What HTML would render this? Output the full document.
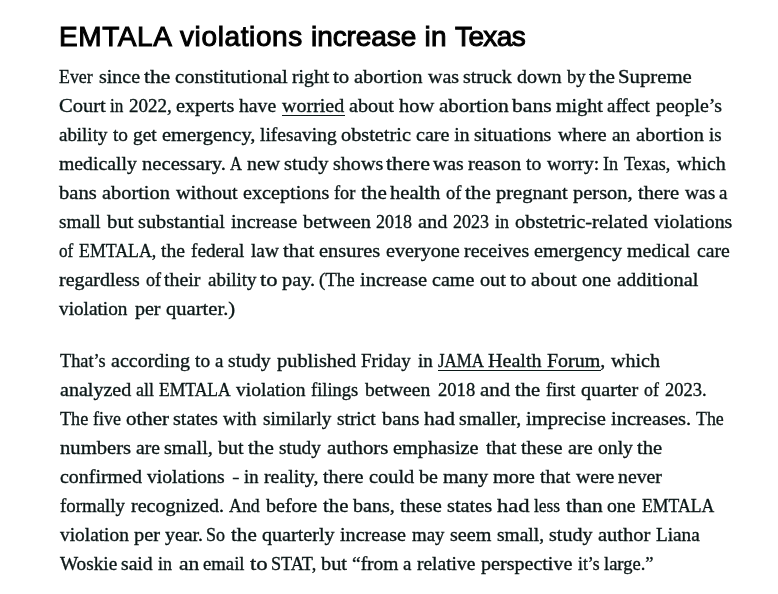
<!DOCTYPE html>
<html><head><meta charset="utf-8"><title>EMTALA violations increase in Texas</title><style>
html,body{margin:0;padding:0;background:#fff;width:778px;height:594px;overflow:hidden}
.wrap{position:absolute;left:0;top:0;width:778px;height:594px;will-change:transform;background:#fff}
h1{position:absolute;left:0;top:19.5px;margin:0;font-family:"Liberation Sans",sans-serif;font-weight:normal;font-size:28px;line-height:34px;color:#000;-webkit-text-stroke:1px #000;white-space:nowrap;width:778px;height:34px}
h1 span{position:absolute;top:0}
.l{position:absolute;left:0;width:778px;height:29px;font-family:"Liberation Serif",serif;font-size:19.5px;line-height:29px;color:#0b1717;-webkit-text-stroke:0.35px #0b1717;white-space:nowrap}
.l span{position:absolute;top:0;transform-origin:0 0}
.u{position:absolute;height:1px;background:#0b1717}
</style></head><body><div class="wrap">
<h1><span style="left:59px;letter-spacing:0.6px">EMTALA</span><span style="left:180px;letter-spacing:0.62px">violations</span><span style="left:311px;letter-spacing:-0.08px">increase</span><span style="left:424.5px;letter-spacing:0.2px">in</span><span style="left:455px;letter-spacing:-0.62px">Texas</span></h1>
<div class="l" style="top:62px"><span style="left:59.29px;transform:scaleX(0.9142)">Ever</span><span style="left:99.26px;transform:scaleX(1.0263)">since</span><span style="left:144.33px;transform:scaleX(1.1023)">the</span><span style="left:175.31px;transform:scaleX(1.0614)">constitutional</span><span style="left:292.30px;transform:scaleX(1.0115)">right</span><span style="left:333.32px;transform:scaleX(1.0667)">to</span><span style="left:354.27px;transform:scaleX(1.0525)">abortion</span><span style="left:428.26px;transform:scaleX(1.0222)">was</span><span style="left:463.30px;transform:scaleX(1.0231)">struck</span><span style="left:517.27px;transform:scaleX(1.0307)">down</span><span style="left:567.26px;transform:scaleX(0.9563)">by</span><span style="left:589.35px;transform:scaleX(1.0883)">the</span><span style="left:618.23px;transform:scaleX(1.0649)">Supreme</span></div>
<div class="l" style="top:91px"><span style="left:59.28px;transform:scaleX(1.0527)">Court</span><span style="left:110.34px;transform:scaleX(0.8795)">in</span><span style="left:129.30px;transform:scaleX(0.9767)">2022,</span><span style="left:176.29px;transform:scaleX(1.0357)">experts</span><span style="left:239.27px;transform:scaleX(1.0090)">have</span><span style="left:282.31px;transform:scaleX(1.0265)">worried</span><span style="left:349.30px;transform:scaleX(1.0346)">about</span><span style="left:399.30px;transform:scaleX(1.0507)">how</span><span style="left:439.27px;transform:scaleX(1.0710)">abortion</span><span style="left:512.29px;transform:scaleX(1.1118)">bans</span><span style="left:556.30px;transform:scaleX(1.0265)">might</span><span style="left:607.30px;transform:scaleX(0.9689)">affect</span><span style="left:656.30px;transform:scaleX(1.0170)">people’s</span></div>
<div class="l" style="top:120px"><span style="left:59.29px;transform:scaleX(0.9704)">ability</span><span style="left:113.28px;transform:scaleX(0.9902)">to</span><span style="left:133.26px;transform:scaleX(0.9948)">get</span><span style="left:162.25px;transform:scaleX(1.0530)">emergency,</span><span style="left:260.30px;transform:scaleX(0.9975)">lifesaving</span><span style="left:341.26px;transform:scaleX(1.0412)">obstetric</span><span style="left:416.29px;transform:scaleX(1.0312)">care</span><span style="left:454.30px;transform:scaleX(1.0000)">in</span><span style="left:474.28px;transform:scaleX(1.0354)">situations</span><span style="left:558.31px;transform:scaleX(1.0193)">where</span><span style="left:612.27px;transform:scaleX(0.9867)">an</span><span style="left:636.28px;transform:scaleX(1.0447)">abortion</span><span style="left:709.26px;transform:scaleX(0.9677)">is</span></div>
<div class="l" style="top:149px"><span style="left:59.30px;transform:scaleX(1.0118)">medically</span><span style="left:142.29px;transform:scaleX(1.0580)">necessary.</span><span style="left:230.36px;transform:scaleX(0.8475)">A</span><span style="left:247.28px;transform:scaleX(1.0161)">new</span><span style="left:284.28px;transform:scaleX(1.0502)">study</span><span style="left:333.28px;transform:scaleX(1.0296)">shows</span><span style="left:386.34px;transform:scaleX(1.1259)">there</span><span style="left:433.30px;transform:scaleX(1.0076)">was</span><span style="left:468.24px;transform:scaleX(1.0449)">reason</span><span style="left:526.29px;transform:scaleX(1.0133)">to</span><span style="left:547.30px;transform:scaleX(1.0063)">worry:</span><span style="left:603.31px;transform:scaleX(0.9375)">In</span><span style="left:624.25px;transform:scaleX(0.9222)">Texas,</span><span style="left:677.31px;transform:scaleX(1.0231)">which</span></div>
<div class="l" style="top:178px"><span style="left:59.30px;transform:scaleX(1.0530)">bans</span><span style="left:102.26px;transform:scaleX(1.0442)">abortion</span><span style="left:176.32px;transform:scaleX(1.0351)">without</span><span style="left:243.28px;transform:scaleX(1.0350)">exceptions</span><span style="left:334.29px;transform:scaleX(0.9411)">for</span><span style="left:361.32px;transform:scaleX(1.0798)">the</span><span style="left:390.29px;transform:scaleX(1.0566)">health</span><span style="left:446.33px;transform:scaleX(0.9488)">of</span><span style="left:465.31px;transform:scaleX(1.0798)">the</span><span style="left:496.32px;transform:scaleX(1.0524)">pregnant</span><span style="left:573.31px;transform:scaleX(1.0503)">person,</span><span style="left:638.27px;transform:scaleX(1.0589)">there</span><span style="left:685.26px;transform:scaleX(0.9983)">was</span><span style="left:719.43px;transform:scaleX(0.9685)">a</span></div>
<div class="l" style="top:207px"><span style="left:59.31px;transform:scaleX(0.9838)">small</span><span style="left:107.29px;transform:scaleX(1.0655)">but</span><span style="left:138.29px;transform:scaleX(1.0411)">substantial</span><span style="left:231.30px;transform:scaleX(1.0346)">increase</span><span style="left:303.31px;transform:scaleX(1.0462)">between</span><span style="left:376.33px;transform:scaleX(0.9218)">2018</span><span style="left:418.29px;transform:scaleX(1.0397)">and</span><span style="left:453.31px;transform:scaleX(0.9218)">2023</span><span style="left:495.36px;transform:scaleX(0.9237)">in</span><span style="left:515.28px;transform:scaleX(1.0469)">obstetric-related</span><span style="left:654.31px;transform:scaleX(1.0184)">violations</span></div>
<div class="l" style="top:236px"><span style="left:59.30px;transform:scaleX(0.8824)">of</span><span style="left:79.34px;transform:scaleX(0.9145)">EMTALA,</span><span style="left:161.28px;transform:scaleX(1.0050)">the</span><span style="left:191.31px;transform:scaleX(0.9854)">federal</span><span style="left:251.30px;transform:scaleX(0.9874)">law</span><span style="left:283.28px;transform:scaleX(1.0660)">that</span><span style="left:319.29px;transform:scaleX(1.0469)">ensures</span><span style="left:386.27px;transform:scaleX(1.0326)">everyone</span><span style="left:464.31px;transform:scaleX(1.0206)">receives</span><span style="left:534.29px;transform:scaleX(1.0331)">emergency</span><span style="left:627.31px;transform:scaleX(1.0228)">medical</span><span style="left:697.28px;transform:scaleX(1.0102)">care</span></div>
<div class="l" style="top:265px"><span style="left:59.30px;transform:scaleX(1.0229)">regardless</span><span style="left:146.34px;transform:scaleX(0.9331)">of</span><span style="left:164.29px;transform:scaleX(1.0203)">their</span><span style="left:208.32px;transform:scaleX(0.9720)">ability</span><span style="left:260.33px;transform:scaleX(1.1581)">to</span><span style="left:282.32px;transform:scaleX(1.0396)">pay.</span><span style="left:319.30px;transform:scaleX(0.9706)">(The</span><span style="left:360.27px;transform:scaleX(1.0509)">increase</span><span style="left:432.29px;transform:scaleX(1.0283)">came</span><span style="left:480.22px;transform:scaleX(1.0364)">out</span><span style="left:510.30px;transform:scaleX(1.0754)">to</span><span style="left:531.26px;transform:scaleX(1.0539)">about</span><span style="left:582.27px;transform:scaleX(1.0296)">one</span><span style="left:617.26px;transform:scaleX(1.0446)">additional</span></div>
<div class="l" style="top:294px"><span style="left:59.29px;transform:scaleX(0.9872)">violation</span><span style="left:135.30px;transform:scaleX(1.0255)">per</span><span style="left:166.27px;transform:scaleX(1.0556)">quarter.)</span></div>
<div class="l" style="top:346px"><span style="left:60.28px;transform:scaleX(0.9369)">That’s</span><span style="left:111.27px;transform:scaleX(1.0265)">according</span><span style="left:195.30px;transform:scaleX(0.9953)">to</span><span style="left:215.25px;transform:scaleX(0.9685)">a</span><span style="left:228.29px;transform:scaleX(1.0101)">study</span><span style="left:277.31px;transform:scaleX(1.0449)">published</span><span style="left:361.30px;transform:scaleX(0.9768)">Friday</span><span style="left:418.29px;transform:scaleX(0.9756)">in</span><span style="left:438.33px;transform:scaleX(0.8664)">JAMA</span><span style="left:488.28px;transform:scaleX(1.0292)">Health</span><span style="left:547.28px;transform:scaleX(1.0235)">Forum,</span><span style="left:611.31px;transform:scaleX(1.0276)">which</span></div>
<div class="l" style="top:375px"><span style="left:60.28px;transform:scaleX(1.0290)">analyzed</span><span style="left:136.35px;transform:scaleX(0.9187)">all</span><span style="left:159.31px;transform:scaleX(0.9000)">EMTALA</span><span style="left:236.30px;transform:scaleX(1.0015)">violation</span><span style="left:311.31px;transform:scaleX(0.9484)">filings</span><span style="left:365.29px;transform:scaleX(1.0035)">between</span><span style="left:438.32px;transform:scaleX(0.9531)">2018</span><span style="left:480.26px;transform:scaleX(1.0714)">and</span><span style="left:515.31px;transform:scaleX(1.0562)">the</span><span style="left:546.29px;transform:scaleX(0.9375)">first</span><span style="left:581.28px;transform:scaleX(1.0367)">quarter</span><span style="left:644.31px;transform:scaleX(0.9156)">of</span><span style="left:665.32px;transform:scaleX(0.9488)">2023.</span></div>
<div class="l" style="top:404px"><span style="left:60.28px;transform:scaleX(0.9305)">The</span><span style="left:93.35px;transform:scaleX(0.9189)">five</span><span style="left:126.25px;transform:scaleX(1.0750)">other</span><span style="left:173.30px;transform:scaleX(1.0354)">states</span><span style="left:223.28px;transform:scaleX(0.9680)">with</span><span style="left:263.30px;transform:scaleX(0.9870)">similarly</span><span style="left:337.30px;transform:scaleX(0.9930)">strict</span><span style="left:382.30px;transform:scaleX(1.0452)">bans</span><span style="left:424.30px;transform:scaleX(1.0940)">had</span><span style="left:459.31px;transform:scaleX(1.0117)">smaller,</span><span style="left:526.26px;transform:scaleX(1.0521)">imprecise</span><span style="left:611.32px;transform:scaleX(1.0501)">increases.</span><span style="left:696.27px;transform:scaleX(0.9145)">The</span></div>
<div class="l" style="top:433px"><span style="left:60.32px;transform:scaleX(1.0597)">numbers</span><span style="left:136.26px;transform:scaleX(1.0050)">are</span><span style="left:164.29px;transform:scaleX(1.0352)">small,</span><span style="left:218.30px;transform:scaleX(1.0255)">but</span><span style="left:248.27px;transform:scaleX(1.0834)">the</span><span style="left:279.28px;transform:scaleX(0.9935)">study</span><span style="left:327.29px;transform:scaleX(1.0702)">authors</span><span style="left:393.30px;transform:scaleX(1.0404)">emphasize</span><span style="left:486.31px;transform:scaleX(1.0372)">that</span><span style="left:521.31px;transform:scaleX(1.0381)">these</span><span style="left:568.29px;transform:scaleX(1.0362)">are</span><span style="left:598.31px;transform:scaleX(1.0072)">only</span><span style="left:637.33px;transform:scaleX(1.0562)">the</span></div>
<div class="l" style="top:462px"><span style="left:60.28px;transform:scaleX(1.0226)">confirmed</span><span style="left:147.31px;transform:scaleX(1.0080)">violations</span><span style="left:232.77px;transform:scaleX(0.5803)">–</span><span style="left:244.25px;transform:scaleX(0.9571)">in</span><span style="left:264.29px;transform:scaleX(1.0196)">reality,</span><span style="left:323.29px;transform:scaleX(1.0365)">there</span><span style="left:369.29px;transform:scaleX(1.0444)">could</span><span style="left:419.30px;transform:scaleX(1.0251)">be</span><span style="left:443.29px;transform:scaleX(1.0444)">many</span><span style="left:493.27px;transform:scaleX(1.0443)">more</span><span style="left:540.31px;transform:scaleX(1.0372)">that</span><span style="left:576.31px;transform:scaleX(1.0115)">were</span><span style="left:618.31px;transform:scaleX(1.0141)">never</span></div>
<div class="l" style="top:491px"><span style="left:60.29px;transform:scaleX(0.9678)">formally</span><span style="left:131.31px;transform:scaleX(1.0279)">recognized.</span><span style="left:229.26px;transform:scaleX(0.9152)">And</span><span style="left:266.30px;transform:scaleX(1.0285)">before</span><span style="left:323.32px;transform:scaleX(1.0641)">the</span><span style="left:353.31px;transform:scaleX(1.0278)">bans,</span><span style="left:400.32px;transform:scaleX(1.0406)">these</span><span style="left:447.28px;transform:scaleX(1.0444)">states</span><span style="left:497.29px;transform:scaleX(1.1582)">had</span><span style="left:534.30px;transform:scaleX(0.8937)">less</span><span style="left:566.31px;transform:scaleX(1.0948)">than</span><span style="left:607.30px;transform:scaleX(1.0118)">one</span><span style="left:642.27px;transform:scaleX(0.9077)">EMTALA</span></div>
<div class="l" style="top:520px"><span style="left:60.30px;transform:scaleX(0.9932)">violation</span><span style="left:134.28px;transform:scaleX(1.0447)">per</span><span style="left:165.32px;transform:scaleX(1.0195)">year.</span><span style="left:206.40px;transform:scaleX(0.9241)">So</span><span style="left:231.30px;transform:scaleX(1.0798)">the</span><span style="left:262.27px;transform:scaleX(1.0303)">quarterly</span><span style="left:340.26px;transform:scaleX(1.0320)">increase</span><span style="left:412.29px;transform:scaleX(0.9680)">may</span><span style="left:450.24px;transform:scaleX(1.0322)">seem</span><span style="left:497.30px;transform:scaleX(0.9985)">small,</span><span style="left:549.30px;transform:scaleX(1.0284)">study</span><span style="left:598.28px;transform:scaleX(1.0524)">author</span><span style="left:656.30px;transform:scaleX(0.9845)">Liana</span></div>
<div class="l" style="top:549px"><span style="left:60.30px;transform:scaleX(0.9865)">Woskie</span><span style="left:121.30px;transform:scaleX(1.0071)">said</span><span style="left:158.36px;transform:scaleX(0.9237)">in</span><span style="left:179.21px;transform:scaleX(1.1022)">an</span><span style="left:203.32px;transform:scaleX(0.9585)">email</span><span style="left:250.36px;transform:scaleX(1.1705)">to</span><span style="left:271.38px;transform:scaleX(0.9322)">STAT,</span><span style="left:321.29px;transform:scaleX(1.0447)">but</span><span style="left:352.29px;transform:scaleX(0.9980)">“from</span><span style="left:403.28px;transform:scaleX(0.9685)">a</span><span style="left:417.30px;transform:scaleX(0.9968)">relative</span><span style="left:481.31px;transform:scaleX(1.0293)">perspective</span><span style="left:578.36px;transform:scaleX(0.9060)">it’s</span><span style="left:604.32px;transform:scaleX(0.9494)">large.”</span></div>
<div class="u" style="left:281.5px;width:63.5px;top:115px"></div><div class="u" style="left:438px;width:163.39999999999998px;top:370px"></div>
</div></body></html>
